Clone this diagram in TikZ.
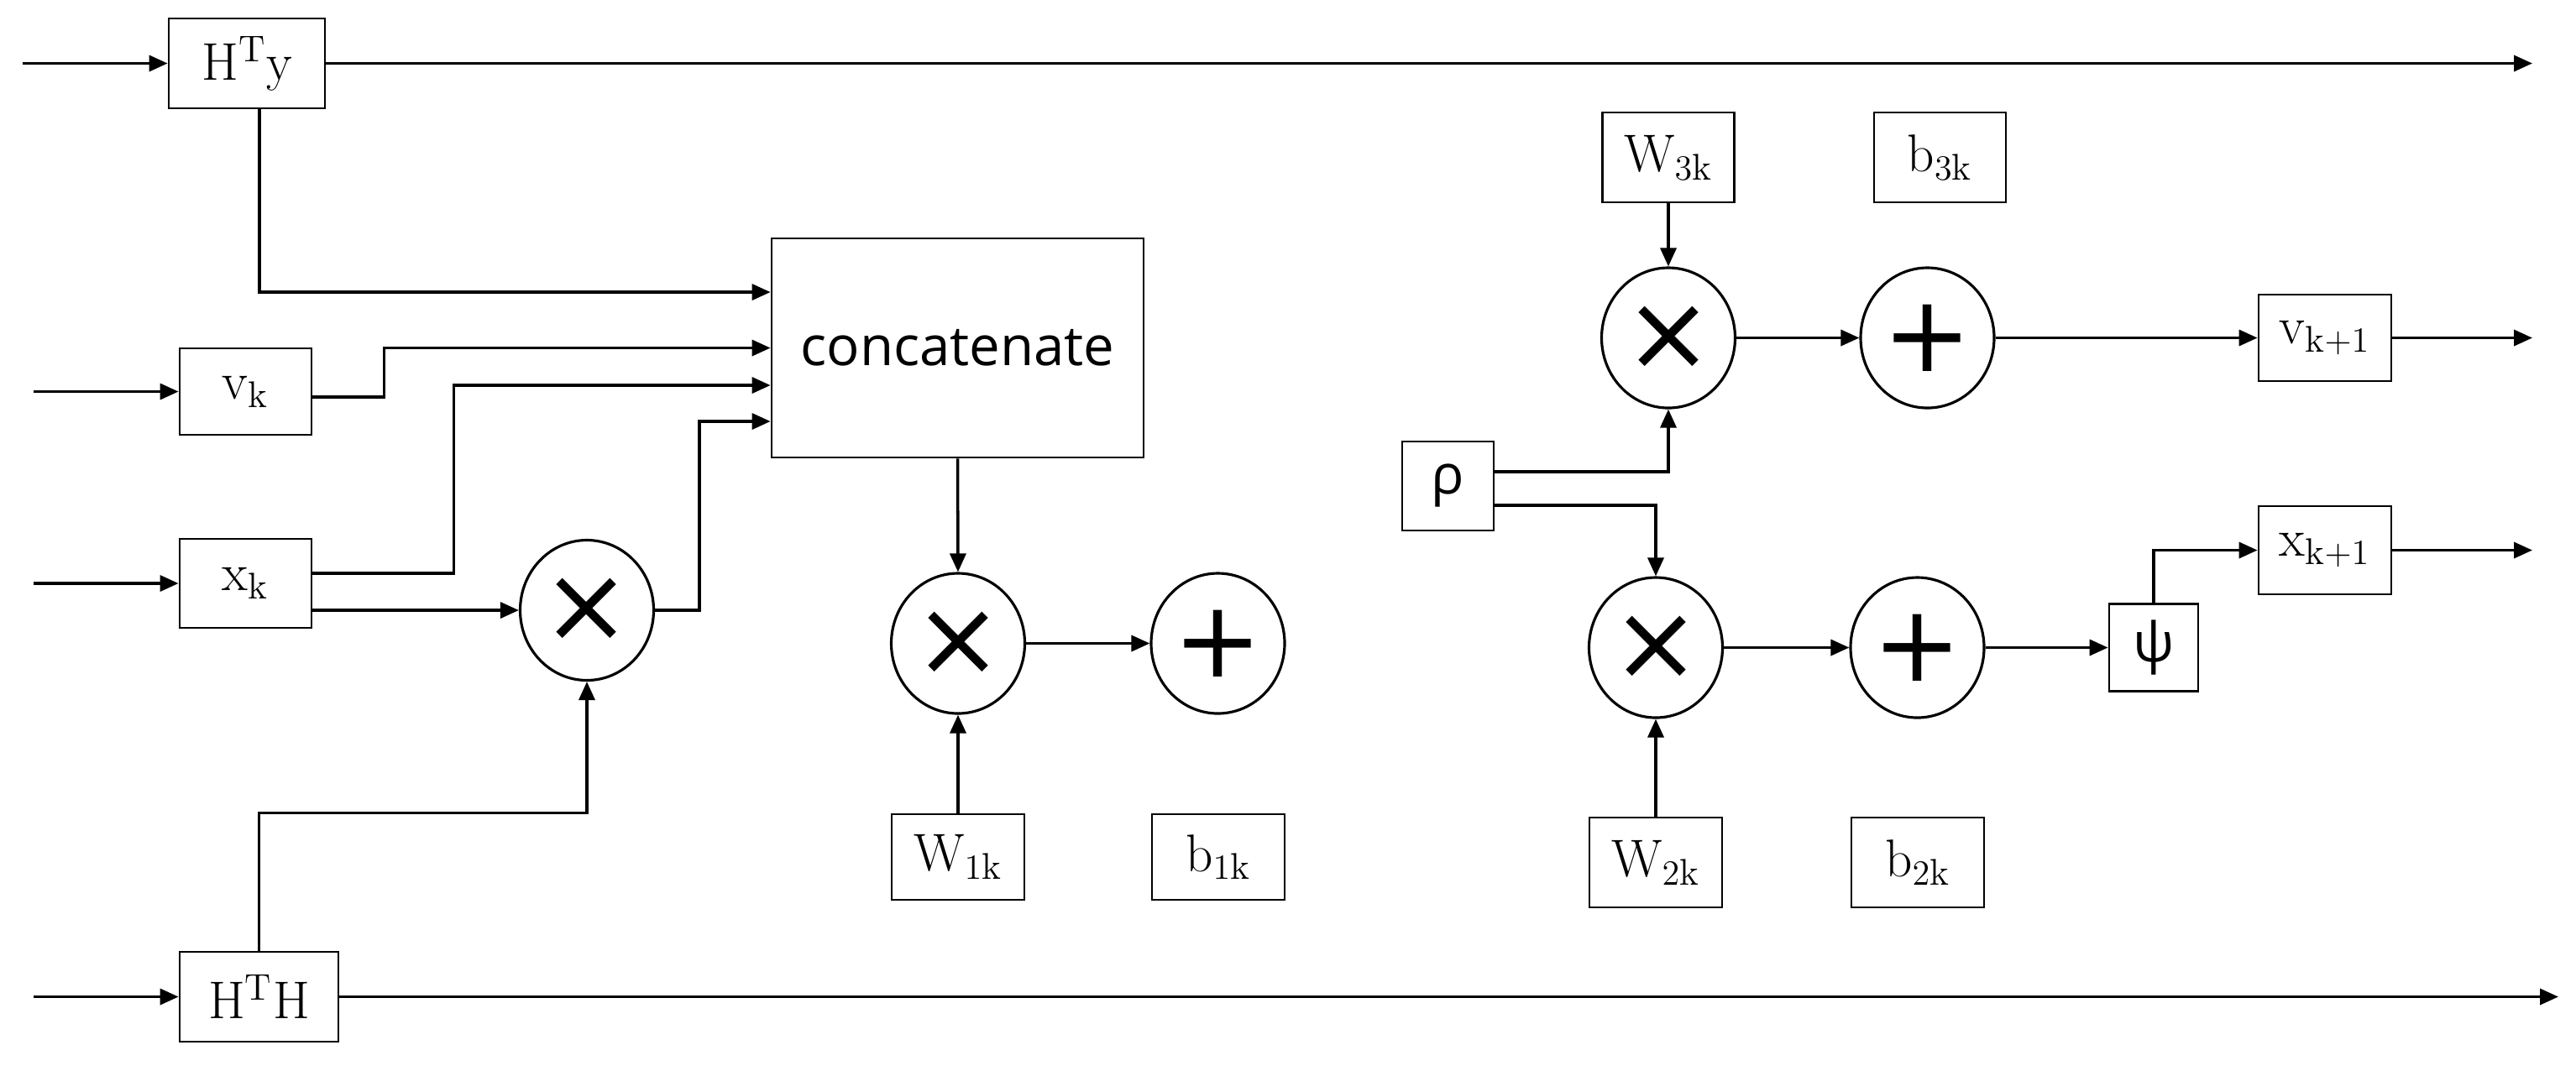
\documentclass[tikz,border=0pt]{standalone}
\usepackage{fontspec}
\usetikzlibrary{arrows.meta,shapes.geometric}
\newfontfamily\uisans{Open Sans}
\newfontfamily\symfont{DejaVu Sans}
\begin{document}
\begin{tikzpicture}[
  mbox/.style={draw, line width=0.8pt, inner sep=0pt, font=\fontsize{18}{20}\selectfont},
  sbox/.style={draw, line width=0.8pt, inner sep=0pt, font=\uisans\fontsize{18.6}{22}\selectfont},
  opnode/.style={draw, ellipse, line width=0.9pt, minimum width=1.59cm, minimum height=1.67cm, inner sep=0pt, font=\symfont\fontsize{36}{36}\selectfont},
  conn/.style={line width=1pt},
  arr/.style={conn, -{Triangle[length=0.22cm,width=0.19cm]}}
]
\useasboundingbox (0,0) rectangle (30.68,-12.69);

% left input boxes
\node[mbox, minimum width=1.86cm, minimum height=1.07cm] (hty) at (2.94,-0.755) {$\mathrm{H}^{\mathrm{T}}\mathrm{y}$};
\node[mbox, minimum width=1.57cm, minimum height=1.03cm] (vk) at (2.925,-4.665) {$\mathrm{v}_{\mathrm{k}}$};
\node[mbox, minimum width=1.57cm, minimum height=1.06cm] (xk) at (2.925,-6.95) {$\mathrm{x}_{\mathrm{k}}$};
\node[mbox, minimum width=1.89cm, minimum height=1.07cm] (hth) at (3.085,-11.875) {$\mathrm{H}^{\mathrm{T}}\mathrm{H}$};

% concatenate
\node[sbox, minimum width=4.43cm, minimum height=2.61cm] (concat) at (11.405,-4.145) {concatenate};

% operators
\node[opnode] (m1) at (6.99,-7.27) {×};
\node[opnode] (m2) at (11.41,-7.665) {×};
\node[opnode] (p1) at (14.505,-7.665) {+};
\node[opnode] (m3) at (19.87,-4.025) {×};
\node[opnode] (p3) at (22.955,-4.025) {+};
\node[opnode] (m4) at (19.72,-7.715) {×};
\node[opnode] (p4) at (22.835,-7.715) {+};

% weights and biases
\node[mbox, minimum width=1.58cm, minimum height=1.02cm] (w1) at (11.41,-10.21) {$\mathrm{W}_{1\mathrm{k}}$};
\node[mbox, minimum width=1.58cm, minimum height=1.02cm] (b1) at (14.51,-10.21) {$\mathrm{b}_{1\mathrm{k}}$};
\node[mbox, minimum width=1.57cm, minimum height=1.07cm] (w3) at (19.87,-1.875) {$\mathrm{W}_{3\mathrm{k}}$};
\node[mbox, minimum width=1.57cm, minimum height=1.07cm] (b3) at (23.105,-1.875) {$\mathrm{b}_{3\mathrm{k}}$};
\node[mbox, minimum width=1.58cm, minimum height=1.07cm] (w2) at (19.72,-10.275) {$\mathrm{W}_{2\mathrm{k}}$};
\node[mbox, minimum width=1.58cm, minimum height=1.07cm] (b2) at (22.84,-10.275) {$\mathrm{b}_{2\mathrm{k}}$};

% rho, psi, outputs
\node[sbox, minimum width=1.09cm, minimum height=1.06cm] (rho) at (17.245,-5.79) {ρ};
\node[sbox, minimum width=1.06cm, minimum height=1.04cm] (psi) at (25.65,-7.715) {ψ};
\node[mbox, minimum width=1.58cm, minimum height=1.03cm] (vk1) at (27.69,-4.025) {$\mathrm{v}_{\mathrm{k}+1}$};
\node[mbox, minimum width=1.58cm, minimum height=1.05cm] (xk1) at (27.69,-6.555) {$\mathrm{x}_{\mathrm{k}+1}$};

% free ends
\coordinate (inHty) at (0.27,-0.755);
\coordinate (outHty) at (30.16,-0.755);
\coordinate (inVk) at (0.40,-4.665);
\coordinate (inXk) at (0.40,-6.95);
\coordinate (inHth) at (0.40,-11.875);
\coordinate (outHth) at (30.47,-11.875);
\coordinate (outVk1) at (30.16,-4.025);
\coordinate (outXk1) at (30.16,-6.555);

% connectors
\draw[arr] (inHty) -- (hty.west);
\draw[arr] (hty.east) -- (outHty);
\draw[arr] ([xshift=0.15cm]hty.south) |- ([yshift=0.665cm]concat.west);
\draw[arr] (inVk) -- (vk.west);
\draw[arr] ([yshift=-0.065cm]vk.east) -- ++(0.85,0) |- (concat.west);
\draw[arr] (inXk) -- (xk.west);
\draw[arr] ([yshift=0.12cm]xk.east) -- ++(1.68,0) |- ([yshift=-0.445cm]concat.west);
\draw[arr] ([yshift=-0.32cm]xk.east) -- (m1.west);
\draw[arr] (m1.east) -- ++(0.53,0) |- ([yshift=-0.875cm]concat.west);
\draw[arr] (inHth) -- (hth.west);
\draw[arr] (hth.east) -- (outHth);
\draw[arr] (hth.north) -- ++(0,1.64) -| (m1.south);

\draw[arr] (concat.south) -- (m2.north);
\draw[arr] (w1.north) -- (m2.south);
\draw[arr] (m2.east) -- (p1.west);

\draw[arr] (w3.south) -- (m3.north);
\draw[arr] ([yshift=0.17cm]rho.east) -| (m3.south);
\draw[arr] ([yshift=-0.23cm]rho.east) -| (m4.north);
\draw[arr] (m3.east) -- (p3.west);
\draw[arr] (p3.east) -- (vk1.west);
\draw[arr] (vk1.east) -- (outVk1);
\draw[arr] (w2.north) -- (m4.south);
\draw[arr] (m4.east) -- (p4.west);
\draw[arr] (p4.east) -- (psi.west);
\draw[arr] (psi.north) |- (xk1.west);
\draw[arr] (xk1.east) -- (outXk1);
\end{tikzpicture}
\end{document}
